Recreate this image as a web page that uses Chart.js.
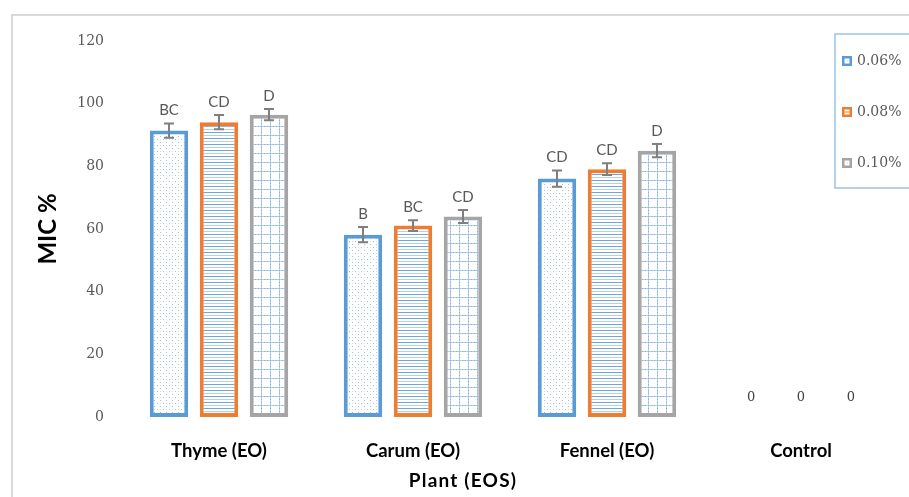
<!DOCTYPE html>
<html>
<head>
<meta charset="utf-8">
<script src="https://cdn.jsdelivr.net/npm/chart.js@4.4.1/dist/chart.umd.min.js"></script>
<style>
html,body{margin:0;padding:0;background:#fff;}
#wrap{width:909px;height:497px;}
</style>
</head>
<body>
<div id="wrap"><canvas id="c" width="909" height="497"></canvas></div>
<script>
const categories = ['Thyme (EO)', 'Carum (EO)', 'Fennel (EO)', 'Control'];
const seriesLabels = ['0.06%', '0.08%', '0.10%'];
const values006 = [91.4, 58.2, 76.1, 0];
const values008 = [94.1, 61.1, 79.1, 0];
const values010 = [96.5, 64.0, 85.0, 0];
const errors006 = [2.3, 2.4, 2.6, 0];
const errors008 = [2.3, 1.7, 1.9, 0];
const errors010 = [1.8, 2.1, 2.1, 0];
const letters006 = ['BC', 'B', 'CD', ''];
const letters008 = ['CD', 'BC', 'CD', ''];
const letters010 = ['D', 'CD', 'D', ''];
const yTicks = [0, 20, 40, 60, 80, 100, 120];
const xTitle = 'Plant (EOS)';

const BLUE = '#5b9bd5', ORANGE = '#ed7d31', GRAY = '#a5a5a5';

function makePattern(kind) {
  const t = document.createElement('canvas');
  const g = t.getContext('2d');
  if (kind === 'dots') {
    t.width = 6; t.height = 6;
    g.fillStyle = '#fff'; g.fillRect(0, 0, 6, 6);
    g.fillStyle = '#9dc3e6';
    g.fillRect(1, 1, 1, 1); g.fillRect(4, 4, 1, 1);
    g.fillStyle = '#c9def2';
    g.fillRect(4, 1, 1, 1);
  } else if (kind === 'hlines') {
    t.width = 4; t.height = 6;
    g.fillStyle = '#fff'; g.fillRect(0, 0, 4, 6);
    g.fillStyle = '#6fa5d9'; g.fillRect(0, 0, 4, 1);
    g.fillStyle = '#b4d0ec'; g.fillRect(0, 3, 4, 1);
  } else {
    t.width = 9; t.height = 9;
    g.fillStyle = '#fff'; g.fillRect(0, 0, 9, 9);
    g.fillStyle = '#b4d0ec';
    g.fillRect(0, 0, 9, 1); g.fillRect(0, 0, 1, 9);
    g.fillStyle = '#7fb0de';
    for (let i = 0; i < 9; i += 3) { g.fillRect(i, 0, 1, 1); g.fillRect(0, i, 1, 1); }
  }
  return g.createPattern(t, 'repeat');
}

const frameAndLegend = {
  id: 'frameAndLegend',
  beforeDraw(chart) {
    const c = chart.ctx;
    c.save();
    c.fillStyle = '#fff';
    c.fillRect(0, 0, chart.width, chart.height);
    c.strokeStyle = '#d9d9d9';
    c.lineWidth = 2;
    c.beginPath();
    c.moveTo(12, chart.height); c.lineTo(12, 15); c.lineTo(chart.width, 15);
    c.stroke();
    c.restore();
  },
  afterDraw(chart) {
    const c = chart.ctx;
    c.save();
    // x-axis title, centred on the whole chart frame
    c.fillStyle = '#000';
    c.font = 'bold 19px Lato';
    c.letterSpacing = '1.2px';
    c.textAlign = 'center';
    c.textBaseline = 'middle';
    c.fillText(xTitle, 463, 481);
    c.letterSpacing = '0px';
    // legend
    c.strokeStyle = '#9dc3e6';
    c.lineWidth = 1.5;
    c.strokeRect(835, 34, 90, 154);
    const ys = [61, 112, 163];
    const cols = [BLUE, ORANGE, GRAY];
    chart.data.datasets.forEach((ds, i) => {
      const y = ys[i];
      c.fillStyle = cols[i];
      c.fillRect(842, y - 5, 10, 10);
      c.fillStyle = '#fff';
      c.fillRect(844.5, y - 2.5, 5, 5);
      c.fillStyle = i === 1 ? ORANGE : '#9dc3e6';
      if (i === 1) { c.fillRect(844.5, y - 0.5, 5, 1); }
      else { c.fillRect(846.5, y - 0.5, 1, 1); }
      c.fillStyle = '#595959';
      c.font = '14px "DejaVu Serif"';
      c.textAlign = 'left';
      c.textBaseline = 'middle';
      c.fillText(ds.label, 857, y);
    });
    c.restore();
  }
};

const errorAndLabels = {
  id: 'errorAndLabels',
  afterDatasetsDraw(chart) {
    const c = chart.ctx;
    const ys = chart.scales.y;
    c.save();
    chart.data.datasets.forEach((ds, di) => {
      const meta = chart.getDatasetMeta(di);
      meta.data.forEach((bar, i) => {
        const v = ds.data[i];
        const e = ds.errors[i];
        const x = bar.x;
        if (v === 0) {
          c.fillStyle = '#404040';
          c.font = '13px "DejaVu Serif"';
          c.textAlign = 'center';
          c.textBaseline = 'middle';
          c.fillText(String(v), x, ys.getPixelForValue(v) - 19);
          return;
        }
        const yt = ys.getPixelForValue(v + e);
        const yb = ys.getPixelForValue(v - e);
        c.strokeStyle = '#7f7f7f';
        c.lineWidth = 2;
        c.beginPath();
        c.moveTo(x, yt); c.lineTo(x, yb);
        c.moveTo(x - 5, yt); c.lineTo(x + 5, yt);
        c.moveTo(x - 5, yb); c.lineTo(x + 5, yb);
        c.stroke();
        c.fillStyle = '#595959';
        c.font = '15px Lato';
        c.textAlign = 'center';
        c.textBaseline = 'middle';
        c.fillText(ds.letters[i], x, yt - 13);
      });
    });
    c.restore();
  }
};

const mk = (label, data, errors, letters, color, pat) => ({
  label, data, errors, letters,
  backgroundColor: pat,
  borderColor: color,
  borderWidth: ctx => (ctx.raw === 0 ? 0 : 4),
  borderSkipped: false,
  categoryPercentage: 0.773,
  barPercentage: 0.77
});

new Chart(document.getElementById('c'), {
  type: 'bar',
  data: {
    labels: categories,
    datasets: [
      mk(seriesLabels[0], values006, errors006, letters006, BLUE, makePattern('dots')),
      mk(seriesLabels[1], values008, errors008, letters008, ORANGE, makePattern('hlines')),
      mk(seriesLabels[2], values010, errors010, letters010, GRAY, makePattern('grid'))
    ]
  },
  options: {
    responsive: false,
    animation: false,
    layout: { padding: { left: 12, right: 11, top: 41, bottom: 0 } },
    plugins: { legend: { display: false }, tooltip: { enabled: false } },
    scales: {
      x: {
        grid: { display: false, drawTicks: false },
        border: { display: false },
        ticks: { color: '#000', font: { family: 'Lato', weight: 'bold', size: 18.5 }, padding: 23, maxRotation: 0 },
        title: { display: false },
        afterFit(s) { s.height = 80; }
      },
      y: {
        min: 0, max: 120,
        afterBuildTicks(s) { s.ticks = yTicks.map(v => ({ value: v })); },
        grid: { display: false, drawTicks: false },
        border: { display: false },
        ticks: { color: '#595959', font: { family: 'DejaVu Serif', size: 14 }, padding: 18 },
        title: { display: true, text: 'MIC %', color: '#000', font: { family: 'Lato', weight: 'bold', size: 24 }, padding: { top: 22, bottom: 0 } },
        afterFit(s) { s.width = 110; }
      }
    }
  },
  plugins: [frameAndLegend, errorAndLabels]
});
</script>
</body>
</html>
